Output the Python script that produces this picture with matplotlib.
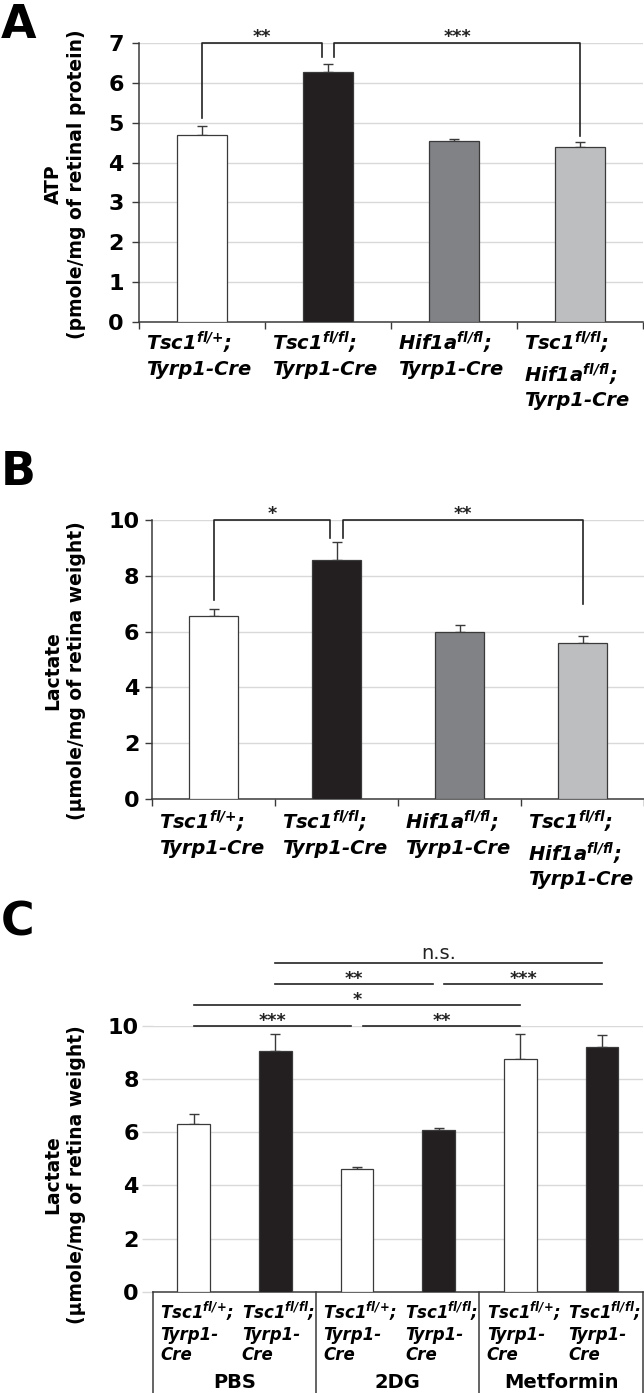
import numpy as np
import matplotlib.pyplot as plt
from matplotlib.transforms import blended_transform_factory

plt.rcParams['font.family'] = 'DejaVu Sans'
plt.rcParams['mathtext.fontset'] = 'custom'
plt.rcParams['mathtext.default'] = 'regular'

# ---- data ----
ab_labels = [r"Tsc1$^{fl/{+}}$;" + "\nTyrp1-Cre",
             r"Tsc1$^{fl/fl}$;" + "\nTyrp1-Cre",
             r"Hif1a$^{fl/fl}$;" + "\nTyrp1-Cre",
             r"Tsc1$^{fl/fl}$;" + "\n" + r"Hif1a$^{fl/fl}$;" + "\nTyrp1-Cre"]
ab_colors = ['white', '#231f20', '#808285', '#bcbec0']

atp_mean = [4.70, 6.27, 4.53, 4.39]
atp_err = [0.22, 0.21, 0.05, 0.12]
# brackets: (x0, x1, y_left, y_right, text)
atp_sig = [(0, 0.95, 5.12, 6.65, '**'), (1.05, 3.0, 6.65, 4.66, '***')]

lacB_mean = [6.57, 8.58, 6.00, 5.60]
lacB_err = [0.25, 0.64, 0.22, 0.26]
lacB_sig = [(0, 0.95, 7.13, 9.34, '*'), (1.05, 3.0, 9.34, 6.99, '**')]

c_labels = [r"Tsc1$^{fl/{+}}$;" + "\nTyrp1-\nCre", r"Tsc1$^{fl/fl}$;" + "\nTyrp1-\nCre"] * 3
c_groups = ['PBS', '2DG', 'Metformin']
c_colors = ['white', '#231f20'] * 3
lacC_mean = [6.30, 9.06, 4.63, 6.09, 8.75, 9.20]
lacC_err = [0.38, 0.64, 0.06, 0.08, 0.96, 0.45]
# lines: (x0, x1, y, text)
lacC_sig = [(0, 1.93, 10.0, '***'), (2.07, 4.0, 10.0, '**'), (0, 4.0, 10.79, '*'),
            (1.0, 2.93, 11.58, '**'), (3.07, 5.0, 11.58, '***'), (1.0, 5.0, 12.38, 'n.s.')]

W, H = 644, 1393
fig = plt.figure(figsize=(W / 100, H / 100), dpi=100)
dark = '#3a3a3a'
grid_c = '#d9d9d9'


def px_axes(left, top, right, bottom):
    return fig.add_axes([left / W, 1 - bottom / H, (right - left) / W, (bottom - top) / H])


def draw_bars(ax, means, errs, colors):
    x = np.arange(len(means))
    ax.bar(x, means, width=0.4, color=colors, edgecolor=dark, linewidth=0.9, zorder=3)
    ax.errorbar(x, means, yerr=[np.zeros(len(means)), errs], fmt='none', ecolor=dark,
                elinewidth=1, capsize=3.5, capthick=1, zorder=2)
    ax.set_axisbelow(True)
    ax.yaxis.grid(True, color=grid_c, lw=1)
    for s in ['top', 'right']:
        ax.spines[s].set_visible(False)
    for s in ['left', 'bottom']:
        ax.spines[s].set_color(dark)
        ax.spines[s].set_linewidth(1.1)


def brackets(ax, sig, top):
    for x0, x1, y0, y1, txt in sig:
        ax.plot([x0, x0, x1, x1], [y0, top, top, y1], color='#222222', lw=1.2, clip_on=False)
        ax.annotate(txt, ((x0 + x1) / 2, top), xytext=(0, 1), textcoords='offset points',
                    ha='center', va='baseline', fontsize=12.5, fontweight='bold',
                    color='#222222', annotation_clip=False)


def ab_panel(ax, means, errs, sig, ymax, ystep, pad_px, lab_top_px, axw_px):
    draw_bars(ax, means, errs, ab_colors)
    ax.set_xlim(-0.5, 3.5)
    ax.set_ylim(0, ymax)
    ax.set_yticks(np.arange(0, ymax + 0.1, ystep))
    ax.set_yticklabels([str(int(v)) for v in np.arange(0, ymax + 0.1, ystep)],
                       fontsize=16, fontweight='bold')
    ax.set_xticks([-0.5, 0.5, 1.5, 2.5, 3.5])
    ax.set_xticklabels([])
    ax.tick_params(axis='both', length=5, width=1, color=dark, pad=pad_px)
    brackets(ax, sig, ymax)
    tr = blended_transform_factory(ax.transData, ax.transAxes)
    for i, lab in enumerate(ab_labels):
        ax.text(i - 0.5 + 7 / (axw_px / 4), lab_top_px, lab, transform=tr, ha='left', va='top',
                fontsize=14, fontweight='bold', fontstyle='italic', linespacing=1.25)


# ---- panel A ----
axA = px_axes(139, 43, 643, 322)
ab_panel(axA, atp_mean, atp_err, atp_sig, 7, 1, 6, -8 / 279, 504)
fig.text(65 / W, 1 - 184 / H, "ATP\n(pmole/mg of retinal protein)", rotation=90,
         ha='center', va='center', fontsize=13.5, fontweight='bold', linespacing=1.3)

# ---- panel B ----
axB = px_axes(152, 520, 644, 799)
ab_panel(axB, lacB_mean, lacB_err, lacB_sig, 10, 2, 4, -10 / 279, 492)
fig.text(65 / W, 1 - 671 / H, "Lactate\n(µmole/mg of retina weight)", rotation=90,
         ha='center', va='center', fontsize=13.5, fontweight='bold', linespacing=1.3)

# ---- panel C ----
axC = px_axes(152.8, 1026, 642.7, 1291.7)
draw_bars(axC, lacC_mean, lacC_err, c_colors)
axC.spines['left'].set_visible(False)
axC.set_xlim(-0.5, 5.5)
axC.set_ylim(0, 10)
axC.set_yticks(np.arange(0, 11, 2))
axC.set_yticklabels([str(v) for v in range(0, 11, 2)], fontsize=16, fontweight='bold')
axC.set_xticks([])
axC.tick_params(axis='y', length=8, width=1, color=grid_c, pad=2)
axC.yaxis.get_major_ticks()[0].tick1line.set_color(dark)
trC = blended_transform_factory(axC.transData, axC.transAxes)
for b in [-0.5, 1.5, 3.5, 5.5]:
    axC.plot([b, b], [0, -0.45], color=dark, lw=1.1, transform=trC, clip_on=False)
for i, lab in enumerate(c_labels):
    axC.text(i - 0.5 + 0.09, -8 / 265.7, lab, transform=trC, ha='left', va='top',
             fontsize=12, fontweight='bold', fontstyle='italic', linespacing=1.2)
for g, name in enumerate(c_groups):
    axC.text(2 * g + 0.5, -91 / 265.7, name, transform=trC, ha='center', va='center',
             fontsize=14, fontweight='bold')
for x0, x1, y, txt in lacC_sig:
    axC.plot([x0, x1], [y, y], color='#222222', lw=1.2, clip_on=False)
    if txt == 'n.s.':
        axC.annotate(txt, ((x0 + x1) / 2, y), xytext=(0, 3), textcoords='offset points',
                     ha='center', va='baseline', fontsize=14, color='#222222',
                     annotation_clip=False)
    else:
        axC.annotate(txt, ((x0 + x1) / 2, y), xytext=(0, 0), textcoords='offset points',
                     ha='center', va='baseline', fontsize=12.5, fontweight='bold',
                     color='#222222', annotation_clip=False)
fig.text(65 / W, 1 - 1175 / H, "Lactate\n(µmole/mg of retina weight)", rotation=90,
         ha='center', va='center', fontsize=13.5, fontweight='bold', linespacing=1.3)

# panel letters
for letter, ytop in [('A', 3), ('B', 450), ('C', 900)]:
    fig.text(1 / W, 1 - ytop / H, letter, fontsize=33, fontweight='bold', ha='left', va='top')

fig.savefig('out.png', dpi=100, facecolor='white')
